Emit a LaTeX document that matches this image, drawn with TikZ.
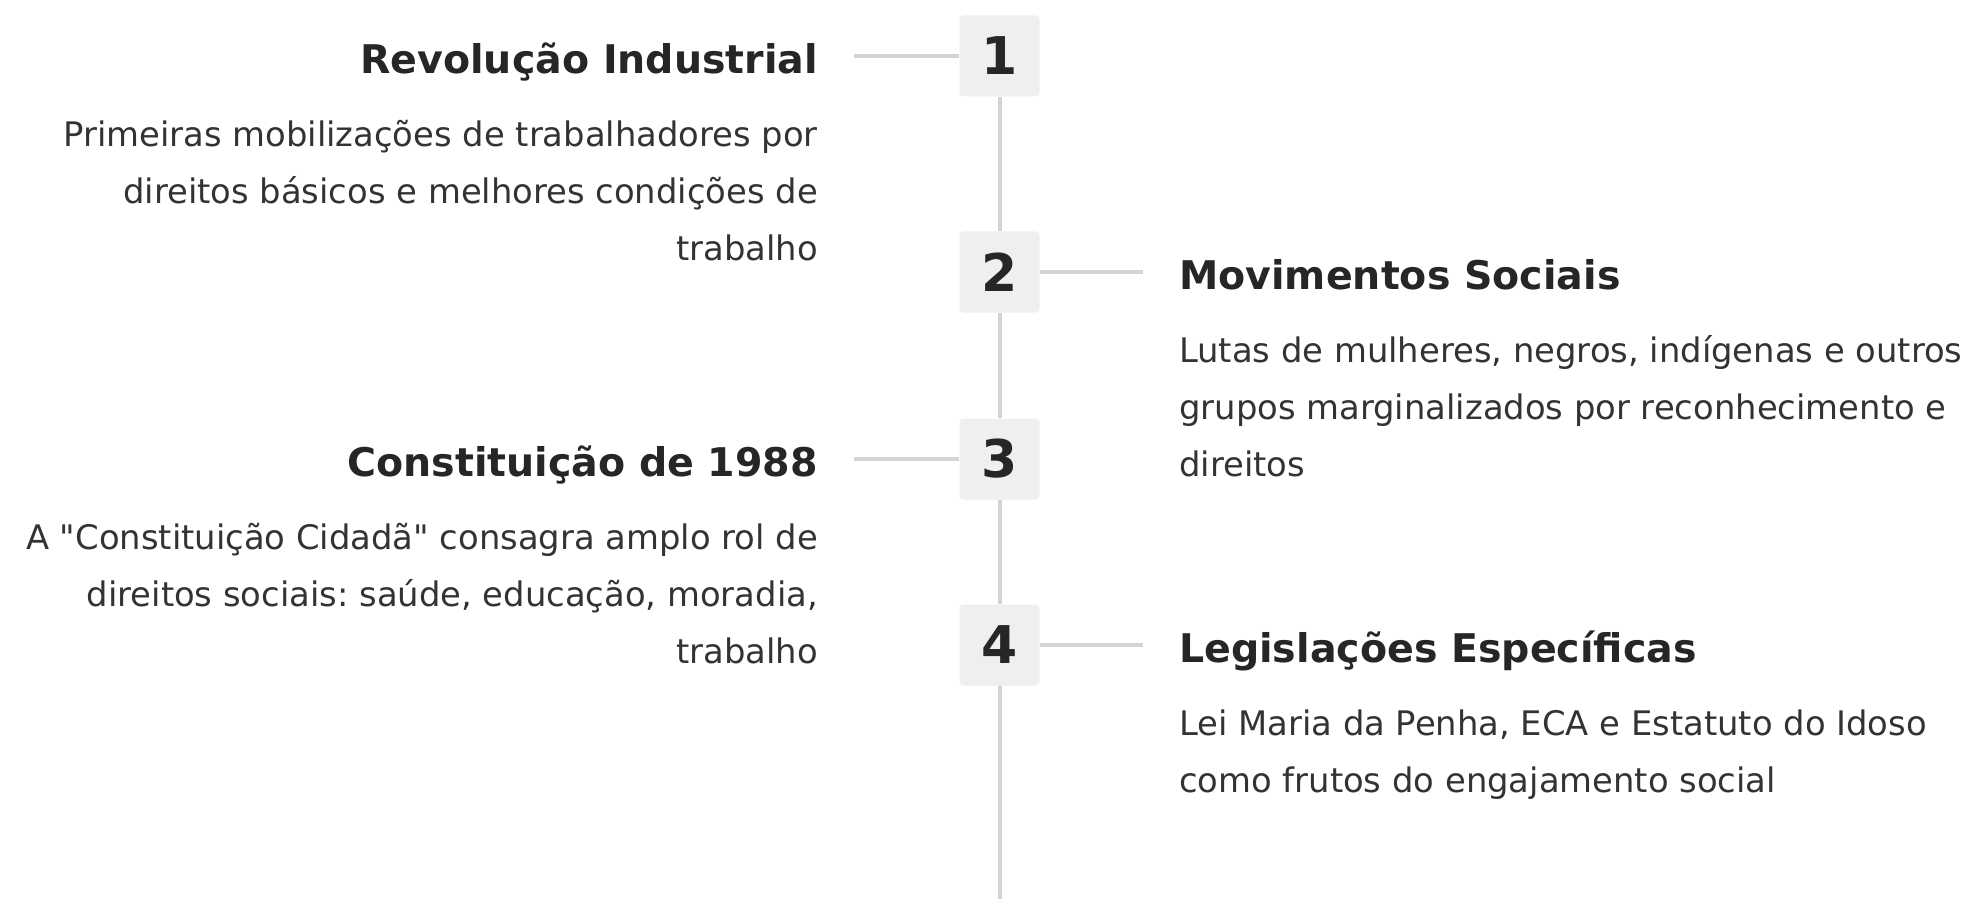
\documentclass[tikz,border=0pt]{standalone}
\usepackage{fontspec}
\setmainfont{DejaVu Sans}[Ligatures=TeXOff]
\usetikzlibrary{positioning}
\definecolor{railgray}{HTML}{D6D3D1}
\definecolor{boxfill}{HTML}{F1EFEE}
\definecolor{ink}{HTML}{262626}
\definecolor{bodyink}{HTML}{333333}
\frenchspacing

\begin{document}
\begin{tikzpicture}[x=1pt,y=1pt,
    num/.style={rectangle,rounded corners=4pt,fill=boxfill,minimum width=80pt,
      minimum height=81pt,inner sep=0pt,text=ink,font=\fontsize{52}{52}\selectfont\bfseries},
    title/.style={inner sep=0pt,text=ink,font=\fontsize{39.5}{39.5}\selectfont\bfseries},
    desc/.style={inner sep=0pt,text=bodyink,font=\fontsize{33.8}{57}\selectfont},
    rail/.style={draw=railgray,line width=4pt},
    link/.style={draw=railgray,line width=4pt,shorten >=36pt}]
  \fill[white] (0,0) rectangle (1985,-899);

  % numbered steps on the rail
  \node[num] (n1) at (999.5,-56)  {1};
  \node[num] (n2) at (999.5,-272) {2};
  \node[num] (n3) at (999.5,-459) {3};
  \node[num] (n4) at (999.5,-645) {4};
  \coordinate (railend) at (999.5,-899);
  \path[rail] (n1) -- (n2) (n2) -- (n3) (n3) -- (n4) (n4) -- (railend);

  % left column (base = last line of a description)
  \node[title,anchor=base east] (t1) at (818,-74) {Revolução Industrial};
  \node[desc,align=right,below=187pt of t1.base east,anchor=base east] (d1)
    {Primeiras mobilizações de trabalhadores por\\direitos básicos e melhores condições de\\trabalho};
  \node[title,anchor=base east] (t3) at (818,-476) {Constituição de 1988};
  \node[desc,align=right,below=187pt of t3.base east,anchor=base east] (d3)
    {A "Constituição Cidadã" consagra amplo rol de\\direitos sociais: saúde, educação, moradia,\\trabalho};

  % right column
  \node[title,anchor=base west] (t2) at (1179,-289) {Movimentos Sociais};
  \node[desc,align=left,below=187pt of t2.base west,anchor=base west] (d2)
    {Lutas de mulheres, negros, indígenas e outros\\grupos marginalizados por reconhecimento e\\direitos};
  \node[title,anchor=base west] (t4) at (1179,-662) {Legislações Específicas};
  \node[desc,align=left,below=130pt of t4.base west,anchor=base west] (d4)
    {Lei Maria da Penha, ECA e Estatuto do Idoso\\como frutos do engajamento social};

  % links
  \path[link] (n1.west) -- (n1 -| t1.east);
  \path[link] (n2.east) -- (n2 -| t2.west);
  \path[link] (n3.west) -- (n3 -| t3.east);
  \path[link] (n4.east) -- (n4 -| t4.west);
\end{tikzpicture}
\end{document}
